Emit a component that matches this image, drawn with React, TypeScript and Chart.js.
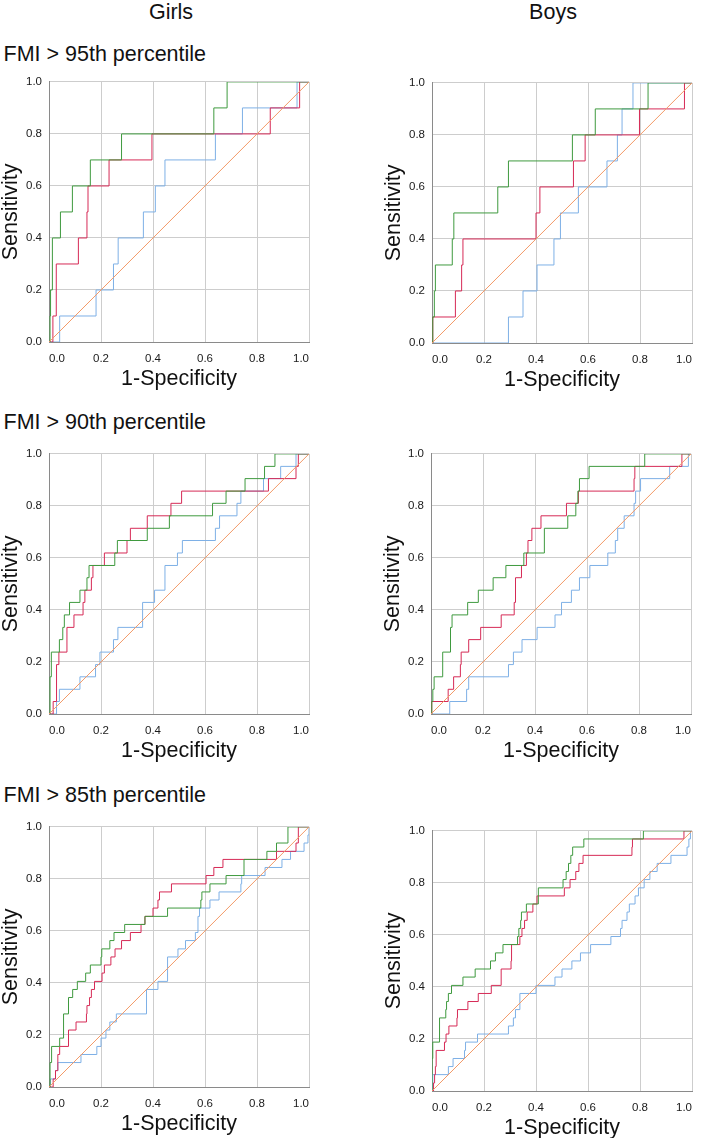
import React, { useEffect, useRef } from "react";
import { Chart, registerables } from "chart.js";

Chart.register(...registerables);

// ---------- text ----------
const COLUMN_TITLES = ["Girls", "Boys"];
const ROW_TITLES = ["FMI > 95th percentile", "FMI > 90th percentile", "FMI > 85th percentile"];
const X_TITLE = "1-Specificity";
const Y_TITLE = "Sensitivity";
const AXIS_TICKS = [0, 0.2, 0.4, 0.6, 0.8, 1.0];
const TICK_LABELS = ["0.0", "0.2", "0.4", "0.6", "0.8", "1.0"];

// ---------- reference (diagonal) line ----------
const REF_FPR = [0, 1];
const REF_TPR = [0, 1];

// ---------- Girls, FMI > 95th ----------
const G95_GREEN_FPR = [0, 0.004, 0.006, 0.013, 0.044, 0.09, 0.159, 0.279, 0.634, 0.685, 1];
const G95_GREEN_TPR = [0, 0.1, 0.2, 0.4, 0.5, 0.6, 0.7, 0.8, 0.9, 1.0, 1.0];
const G95_RED_FPR = [0, 0.015, 0.028, 0.113, 0.146, 0.15, 0.231, 0.396, 0.851, 0.964, 1];
const G95_RED_TPR = [0, 0.1, 0.3, 0.4, 0.5, 0.6, 0.7, 0.8, 0.9, 1.0, 1.0];
const G95_BLUE_FPR = [0, 0.041, 0.181, 0.248, 0.266, 0.363, 0.409, 0.446, 0.64, 0.744, 0.954, 1];
const G95_BLUE_TPR = [0, 0.1, 0.2, 0.3, 0.4, 0.5, 0.6, 0.7, 0.8, 0.9, 1.0, 1.0];

// ---------- Boys, FMI > 95th ----------
const B95_GREEN_FPR = [0, 0.003, 0.009, 0.013, 0.078, 0.084, 0.253, 0.294, 0.54, 0.628, 0.831, 1];
const B95_GREEN_TPR = [0, 0.1, 0.2, 0.3, 0.4, 0.5, 0.6, 0.7, 0.8, 0.9, 1.0, 1.0];
const B95_RED_FPR = [0, 0.003, 0.09, 0.114, 0.119, 0.4, 0.415, 0.544, 0.589, 0.798, 0.971, 1];
const B95_RED_TPR = [0, 0.1, 0.2, 0.3, 0.4, 0.5, 0.6, 0.7, 0.8, 0.9, 1.0, 1.0];
const B95_BLUE_FPR = [0, 0.294, 0.35, 0.404, 0.469, 0.494, 0.563, 0.673, 0.713, 0.731, 0.773, 1];
const B95_BLUE_TPR = [0, 0.1, 0.2, 0.3, 0.4, 0.5, 0.6, 0.7, 0.8, 0.9, 1.0, 1.0];

// ---------- Girls, FMI > 90th ----------
const G90_GREEN_FPR = [0, 0.004, 0.009, 0.04, 0.053, 0.059, 0.079, 0.119, 0.146, 0.154, 0.253, 0.263, 0.378, 0.463, 0.629, 0.681, 0.754, 0.829, 0.869, 1];
const G90_GREEN_TPR = [0, 0.143, 0.238, 0.286, 0.333, 0.381, 0.429, 0.476, 0.524, 0.571, 0.619, 0.667, 0.714, 0.762, 0.81, 0.857, 0.905, 0.952, 1, 1];
const G90_RED_FPR = [0, 0.016, 0.029, 0.038, 0.069, 0.096, 0.131, 0.138, 0.163, 0.169, 0.213, 0.3, 0.313, 0.378, 0.469, 0.51, 0.844, 0.95, 0.959, 1];
const G90_RED_TPR = [0, 0.048, 0.19, 0.238, 0.333, 0.381, 0.429, 0.476, 0.524, 0.571, 0.619, 0.667, 0.714, 0.762, 0.81, 0.857, 0.905, 0.952, 1, 1];
const G90_BLUE_FPR = [0, 0.029, 0.04, 0.119, 0.179, 0.196, 0.248, 0.265, 0.36, 0.406, 0.446, 0.494, 0.513, 0.64, 0.656, 0.723, 0.738, 0.825, 0.891, 0.95, 1];
const G90_BLUE_TPR = [0, 0.048, 0.095, 0.143, 0.19, 0.238, 0.286, 0.333, 0.429, 0.476, 0.571, 0.619, 0.667, 0.714, 0.762, 0.81, 0.857, 0.905, 0.952, 1, 1];

// ---------- Boys, FMI > 90th ----------
const B90_GREEN_FPR = [0, 0.003, 0.007, 0.012, 0.045, 0.075, 0.081, 0.141, 0.182, 0.239, 0.288, 0.357, 0.436, 0.526, 0.557, 0.565, 0.571, 0.608, 0.822, 1];
const B90_GREEN_TPR = [0, 0.048, 0.095, 0.143, 0.238, 0.333, 0.381, 0.429, 0.476, 0.524, 0.571, 0.619, 0.714, 0.762, 0.81, 0.857, 0.905, 0.952, 1, 1];
const B90_RED_FPR = [0, 0.003, 0.066, 0.087, 0.113, 0.116, 0.145, 0.191, 0.27, 0.32, 0.325, 0.348, 0.367, 0.373, 0.388, 0.423, 0.521, 0.567, 0.781, 0.784, 0.965, 1];
const B90_RED_TPR = [0, 0.048, 0.095, 0.143, 0.19, 0.238, 0.286, 0.333, 0.381, 0.429, 0.524, 0.571, 0.619, 0.667, 0.714, 0.762, 0.81, 0.857, 0.905, 0.952, 1, 1];
const B90_BLUE_FPR = [0, 0.072, 0.137, 0.145, 0.298, 0.317, 0.35, 0.408, 0.477, 0.502, 0.54, 0.571, 0.611, 0.68, 0.709, 0.718, 0.743, 0.781, 0.787, 0.806, 0.918, 0.99, 1];
const B90_BLUE_TPR = [0, 0.048, 0.095, 0.143, 0.19, 0.238, 0.286, 0.333, 0.381, 0.429, 0.476, 0.524, 0.571, 0.619, 0.667, 0.714, 0.762, 0.81, 0.857, 0.905, 0.952, 1, 1];

// ---------- Girls, FMI > 85th ----------
const G85_GREEN_FPR = [0, 0.004, 0.01, 0.041, 0.056, 0.075, 0.091, 0.109, 0.141, 0.159, 0.2, 0.203, 0.234, 0.25, 0.291, 0.369, 0.456, 0.584, 0.588, 0.619, 0.681, 0.75, 0.838, 0.875, 0.919, 1];
const G85_GREEN_TPR = [0, 0.094, 0.156, 0.188, 0.281, 0.344, 0.375, 0.406, 0.438, 0.469, 0.5, 0.531, 0.563, 0.594, 0.625, 0.656, 0.688, 0.719, 0.75, 0.781, 0.813, 0.875, 0.906, 0.938, 1, 1];
const G85_RED_FPR = [0, 0.016, 0.025, 0.034, 0.041, 0.075, 0.104, 0.144, 0.146, 0.156, 0.163, 0.175, 0.204, 0.213, 0.238, 0.254, 0.279, 0.313, 0.354, 0.369, 0.4, 0.419, 0.425, 0.471, 0.604, 0.634, 0.669, 0.875, 0.95, 0.959, 1];
const G85_RED_TPR = [0, 0.031, 0.063, 0.125, 0.156, 0.219, 0.25, 0.281, 0.313, 0.344, 0.375, 0.406, 0.438, 0.469, 0.5, 0.531, 0.563, 0.594, 0.625, 0.656, 0.688, 0.719, 0.75, 0.781, 0.813, 0.844, 0.875, 0.906, 0.938, 1, 1];
const G85_BLUE_FPR = [0, 0.006, 0.025, 0.034, 0.123, 0.184, 0.2, 0.219, 0.234, 0.259, 0.375, 0.419, 0.456, 0.496, 0.525, 0.563, 0.573, 0.579, 0.619, 0.654, 0.738, 0.741, 0.831, 0.896, 0.929, 0.981, 0.996, 1];
const G85_BLUE_TPR = [0, 0.031, 0.063, 0.094, 0.125, 0.156, 0.188, 0.219, 0.25, 0.281, 0.375, 0.406, 0.5, 0.531, 0.563, 0.594, 0.656, 0.688, 0.719, 0.75, 0.781, 0.813, 0.844, 0.875, 0.906, 0.938, 0.969, 1];

// ---------- Boys, FMI > 85th ----------
const B85_GREEN_FPR = [0, 0, 0.003, 0.029, 0.053, 0.056, 0.063, 0.075, 0.119, 0.166, 0.225, 0.244, 0.273, 0.329, 0.334, 0.341, 0.344, 0.363, 0.409, 0.504, 0.516, 0.525, 0.534, 0.541, 0.584, 0.813, 1];
const B85_GREEN_TPR = [0, 0.125, 0.188, 0.281, 0.313, 0.344, 0.375, 0.406, 0.438, 0.469, 0.5, 0.531, 0.563, 0.594, 0.625, 0.656, 0.688, 0.719, 0.781, 0.813, 0.844, 0.875, 0.906, 0.938, 0.969, 1, 1];
const B85_RED_FPR = [0, 0.006, 0.01, 0.013, 0.016, 0.048, 0.054, 0.065, 0.096, 0.098, 0.138, 0.178, 0.228, 0.266, 0.304, 0.306, 0.338, 0.346, 0.356, 0.366, 0.388, 0.404, 0.509, 0.531, 0.553, 0.565, 0.581, 0.769, 0.771, 0.969, 1];
const B85_RED_TPR = [0, 0.031, 0.063, 0.094, 0.156, 0.188, 0.219, 0.25, 0.281, 0.313, 0.344, 0.375, 0.406, 0.469, 0.5, 0.563, 0.594, 0.625, 0.656, 0.688, 0.719, 0.75, 0.781, 0.813, 0.844, 0.875, 0.906, 0.938, 0.969, 1, 1];
const B85_BLUE_FPR = [0, 0.003, 0.063, 0.081, 0.125, 0.129, 0.175, 0.294, 0.313, 0.321, 0.338, 0.4, 0.473, 0.5, 0.538, 0.571, 0.61, 0.688, 0.725, 0.731, 0.75, 0.759, 0.781, 0.794, 0.816, 0.838, 0.866, 0.919, 0.981, 0.988, 0.994, 1];
const B85_BLUE_TPR = [0, 0.063, 0.094, 0.125, 0.156, 0.188, 0.219, 0.25, 0.281, 0.313, 0.375, 0.406, 0.438, 0.469, 0.5, 0.531, 0.563, 0.594, 0.625, 0.656, 0.688, 0.719, 0.75, 0.781, 0.813, 0.844, 0.875, 0.906, 0.938, 0.969, 1, 1];

// ---------- styles / layout ----------
const FONT = "'Liberation Sans', Arial, Helvetica, sans-serif";
const COLORS = { green: "#3f9a3f", red: "#d62a56", blue: "#7eb0e6", ref: "#f39a68" };
const PLOT = 266;
const Y_AXIS_W = 49;
const X_AXIS_H = 50;
const PAD_TOP = 8;
const PAD_RIGHT = 4;
const PAD_BOTTOM = 10;

type Curve = [number[], number[]];
interface PanelDef {
  left: number;
  top: number;
  green: Curve;
  red: Curve;
  blue: Curve;
}

const PANELS: PanelDef[] = [
  { left: 49, top: 76, green: [G95_GREEN_FPR, G95_GREEN_TPR], red: [G95_RED_FPR, G95_RED_TPR], blue: [G95_BLUE_FPR, G95_BLUE_TPR] },
  { left: 432, top: 77, green: [B95_GREEN_FPR, B95_GREEN_TPR], red: [B95_RED_FPR, B95_RED_TPR], blue: [B95_BLUE_FPR, B95_BLUE_TPR] },
  { left: 49, top: 448, green: [G90_GREEN_FPR, G90_GREEN_TPR], red: [G90_RED_FPR, G90_RED_TPR], blue: [G90_BLUE_FPR, G90_BLUE_TPR] },
  { left: 431, top: 448, green: [B90_GREEN_FPR, B90_GREEN_TPR], red: [B90_RED_FPR, B90_RED_TPR], blue: [B90_BLUE_FPR, B90_BLUE_TPR] },
  { left: 49, top: 821, green: [G85_GREEN_FPR, G85_GREEN_TPR], red: [G85_RED_FPR, G85_RED_TPR], blue: [G85_BLUE_FPR, G85_BLUE_TPR] },
  { left: 432, top: 825, green: [B85_GREEN_FPR, B85_GREEN_TPR], red: [B85_RED_FPR, B85_RED_TPR], blue: [B85_BLUE_FPR, B85_BLUE_TPR] },
];

const toPoints = (xs: number[], ys: number[]) => xs.map((x, i) => ({ x, y: ys[i] }));

function RocPanel({ def }: { def: PanelDef }) {
  const ref = useRef<HTMLCanvasElement | null>(null);
  const width = Y_AXIS_W + PLOT + PAD_RIGHT;
  const height = PAD_TOP + PLOT + X_AXIS_H + PAD_BOTTOM;

  useEffect(() => {
    if (!ref.current) return;
    // ROC staircase: horizontal run at the previous sensitivity, then a vertical jump at the new 1-specificity
    const line = (pts: Curve, color: string, stepped: boolean) => ({
      data: toPoints(pts[0], pts[1]),
      borderColor: color,
      backgroundColor: color,
      borderWidth: 1,
      pointRadius: 0,
      fill: false,
      tension: 0,
      stepped: stepped ? ("before" as const) : false,
    });
    const axisCommon = {
      type: "linear" as const,
      min: 0,
      max: 1,
      afterBuildTicks: (scale: any) => {
        scale.ticks = AXIS_TICKS.map((v) => ({ value: v }));
      },
      grid: { color: "#cdcdcd", lineWidth: 1, drawTicks: false },
      border: { display: true, color: "#8a8a8a", width: 1 },
    };
    const chart = new Chart(ref.current, {
      type: "line",
      data: {
        datasets: [
          line([REF_FPR, REF_TPR], COLORS.ref, false),
          line(def.green, COLORS.green, true),
          line(def.red, COLORS.red, true),
          line(def.blue, COLORS.blue, true),
        ],
      },
      options: {
        animation: false,
        responsive: false,
        maintainAspectRatio: false,
        events: [],
        layout: { autoPadding: false, padding: { top: PAD_TOP, right: PAD_RIGHT, bottom: PAD_BOTTOM, left: 0 } },
        plugins: { legend: { display: false }, tooltip: { enabled: false } },
        scales: {
          x: {
            ...axisCommon,
            position: "bottom",
            afterFit: (scale: any) => {
              scale.height = X_AXIS_H;
            },
            ticks: {
              align: "inner",
              maxRotation: 0,
              padding: 10,
              color: "#1a1a1a",
              font: { family: FONT, size: 11.5 },
              callback: (_v: any, i: number) => TICK_LABELS[i],
            },
            title: {
              display: true,
              text: X_TITLE,
              color: "#111",
              padding: { top: 0, bottom: 0 },
              font: { family: FONT, size: 21.5, lineHeight: 1.2 },
            },
          },
          y: {
            ...axisCommon,
            position: "left",
            afterFit: (scale: any) => {
              scale.width = Y_AXIS_W;
            },
            ticks: {
              padding: 7,
              color: "#1a1a1a",
              font: { family: FONT, size: 11.5 },
              callback: (_v: any, i: number) => TICK_LABELS[i],
            },
            title: {
              display: true,
              text: Y_TITLE,
              color: "#111",
              padding: { top: 0, bottom: 0 },
              font: { family: FONT, size: 21.5, lineHeight: 1 },
            },
          },
        },
      },
    } as any);
    return () => chart.destroy();
  }, [def]);

  return (
    <canvas
      ref={ref}
      width={width}
      height={height}
      style={{ position: "absolute", left: def.left - Y_AXIS_W, top: def.top - PAD_TOP, width, height }}
    />
  );
}

const bigText: React.CSSProperties = {
  position: "absolute",
  fontFamily: FONT,
  fontSize: "21.5px",
  lineHeight: "21.5px",
  color: "#111",
  whiteSpace: "nowrap",
};

export default function App() {
  return (
    <div style={{ position: "absolute", left: 0, top: 0, width: 704, height: 1138, overflow: "hidden", background: "#fff" }}>
      <div style={{ ...bigText, left: 171, top: 2, transform: "translateX(-50%)" }}>{COLUMN_TITLES[0]}</div>
      <div style={{ ...bigText, left: 553, top: 2, transform: "translateX(-50%)" }}>{COLUMN_TITLES[1]}</div>
      <div style={{ ...bigText, left: 3.5, top: 44 }}>{ROW_TITLES[0]}</div>
      <div style={{ ...bigText, left: 3.5, top: 412 }}>{ROW_TITLES[1]}</div>
      <div style={{ ...bigText, left: 3.5, top: 784.5 }}>{ROW_TITLES[2]}</div>
      {PANELS.map((p, i) => (
        <RocPanel key={i} def={p} />
      ))}
    </div>
  );
}
